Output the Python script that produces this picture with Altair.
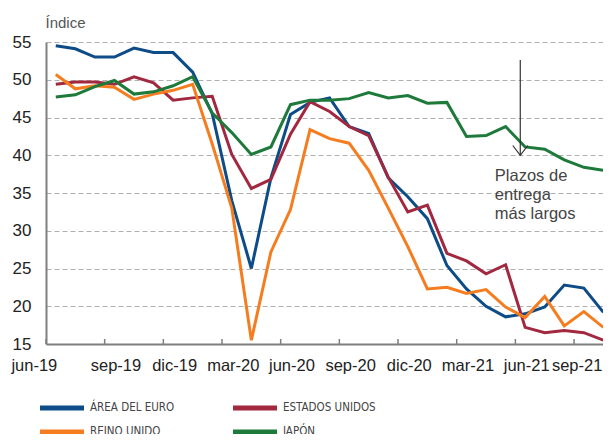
import altair as alt
import pandas as pd

months = ["jun-19", "jul-19", "ago-19", "sep-19", "oct-19", "nov-19", "dic-19",
          "ene-20", "feb-20", "mar-20", "abr-20", "may-20", "jun-20", "jul-20",
          "ago-20", "sep-20", "oct-20", "nov-20", "dic-20", "ene-21", "feb-21",
          "mar-21", "abr-21", "may-21", "jun-21", "jul-21", "ago-21", "sep-21", "oct-21"]

tick_labels = ["jun-19", "sep-19", "dic-19", "mar-20", "jun-20", "sep-20",
               "dic-20", "mar-21", "jun-21", "sep-21"]

euro = [54.5, 54.1, 53.0, 53.0, 54.2, 53.6, 53.6, 51.0, 45.5, 34.0, 25.0, 37.0,
        45.4, 47.0, 47.6, 43.8, 42.9, 37.0, 34.5, 31.6, 25.4, 22.3, 20.0, 18.6,
        19.0, 19.9, 22.8, 22.4, 19.2]
eeuu = [49.4, 49.7, 49.7, 49.4, 50.4, 49.6, 47.3, 47.6, 47.8, 40.1, 35.6, 36.8,
        42.8, 47.1, 45.8, 43.8, 42.6, 37.1, 32.5, 33.4, 27.0, 26.0, 24.3, 25.5,
        17.2, 16.5, 16.8, 16.5, 15.5]
ru = [50.7, 48.8, 49.2, 49.0, 47.4, 48.1, 48.6, 49.4, 41.5, 33.0, 15.5, 27.2,
      32.8, 43.4, 42.2, 41.6, 38.0, 33.0, 27.9, 22.3, 22.5, 21.7, 22.2, 19.9,
      18.5, 21.3, 17.4, 19.3, 17.2]
japon = [47.7, 48.0, 49.1, 49.9, 48.1, 48.4, 49.2, 50.4, 45.6, 43.0, 40.1, 41.1,
         46.7, 47.3, 47.3, 47.5, 48.3, 47.6, 47.9, 46.9, 47.0, 42.5, 42.6, 43.8,
         41.1, 40.8, 39.4, 38.4, 38.0]

series_names = ["ÁREA DEL EURO", "ESTADOS UNIDOS", "REINO UNIDO", "JAPÓN"]
series_colors = ["#0d4c87", "#a1283f", "#f57d20", "#1e7a3b"]
series_values = [euro, eeuu, ru, japon]

rows = []
for name, vals in zip(series_names, series_values):
    for i, v in enumerate(vals):
        rows.append({"serie": name, "i": i, "mes": months[i], "valor": v})
df = pd.DataFrame(rows)

FONT = "Liberation Sans"
LEGEND_FONT = "DejaVu Sans Condensed"
label_vals = [3 * k for k in range(len(tick_labels))]
tick_vals = [-0.5 + 3 * k for k in range(10)]
labels_js = "[" + ",".join("'%s'" % t for t in tick_labels) + "]"
last_label = label_vals[-1]

xscale = alt.Scale(domain=[-0.5, 27.98], nice=False, zero=False)
yscale = alt.Scale(domain=[15, 55], nice=False, zero=False)

X_AXIS = alt.Axis(
    values=label_vals, labelExpr=labels_js + "[round(datum.value / 3)]",
    ticks=False, grid=False, domain=True, domainColor="#7f7f7f", domainWidth=2,
    labelFont=FONT, labelFontSize=16.5, labelColor="#222", labelPadding=13,
    labelAlign={"condition": {"test": "datum.value == 0 || datum.value == %d" % last_label,
                              "value": "right"}, "value": "center"},
    labelOffset={"condition": {"test": "datum.value == %d" % last_label, "value": 18},
                 "value": 1},
    labelFlush=False, labelOverlap=False, labelBound=False, title=None)

Y_AXIS = alt.Axis(
    values=list(range(15, 56, 5)), ticks=False, grid=True, gridColor="#b0b0b0",
    gridDash=[5, 3], gridWidth=1, domain=True, domainColor="#7f7f7f", domainWidth=2,
    labelFont=FONT, labelFontSize=17, labelColor="#222", labelPadding=15,
    labelOverlap=False, labelFlush=False,
    title="Índice", titleAngle=0, titleAlign="left", titleBaseline="middle",
    titleX=-1, titleY=-20, titleFont=FONT, titleFontSize=15, titleFontWeight="normal",
    titleColor="#555")


def X(field):
    return alt.X(field, scale=xscale, axis=X_AXIS)


def Y(field):
    return alt.Y(field, scale=yscale, axis=Y_AXIS)


lines = alt.Chart(df).mark_line(strokeWidth=3).encode(
    x=X("i:Q"),
    y=Y("valor:Q"),
    color=alt.Color("serie:N", scale=alt.Scale(domain=series_names, range=series_colors),
                    legend=alt.Legend(orient="none", legendX=8, legendY=358, columns=2,
                                      direction="horizontal",
                                      title=None, symbolType="M-4,0L4,0", symbolSize=121,
                                      symbolStrokeWidth=5, labelFont=LEGEND_FONT,
                                      labelFontSize=11.5, labelColor="#444", labelOffset=20,
                                      columnPadding=48, rowPadding=4, padding=0)),
    order=alt.Order("i:Q"),
    detail="serie:N",
)

# upward ticks on the x baseline, between quarters
ticks_layer = alt.Chart(pd.DataFrame({"i": tick_vals, "valor": [15] * len(tick_vals)})).mark_rule(
    color="#7f7f7f", strokeWidth=1.5).encode(
    x=X("i:Q"),
    y=Y("valor:Q"),
    y2=alt.value(297),
)

arrow_x = [23.75]
arrow = alt.Chart(pd.DataFrame({"i": arrow_x, "valor": [52.6], "v2": [40.0]})).mark_rule(
    color="#333", strokeWidth=1.2).encode(x=X("i:Q"), y=Y("valor:Q"), y2="v2:Q")
head = alt.Chart(pd.DataFrame({"i": arrow_x, "valor": [40.0]})).mark_point(
    shape="M-1,-1.3L0,0L1,-1.3", size=225, filled=False, color="#333", strokeWidth=1.2,
    opacity=1).encode(x=X("i:Q"), y=Y("valor:Q"))
note = alt.Chart(pd.DataFrame({"i": [22.45], "valor": [37.2],
                               "t": [["Plazos de", "entrega", "más largos"]]})).mark_text(
    align="left", baseline="middle", font=FONT, fontSize=16.5, color="#444", lineHeight=19
).encode(x=X("i:Q"), y=Y("valor:Q"), text="t")

chart = alt.layer(lines, ticks_layer, arrow, head, note).properties(
    width=557, height=302,
    autosize=alt.AutoSizeParams(type="none"),
    padding={"left": 38, "top": 34, "right": 0, "bottom": 90},
).configure_view(stroke=None).configure_axis(labelFontWeight="normal")

chart.save("out.html", embed_options={"renderer": "svg", "actions": False})
